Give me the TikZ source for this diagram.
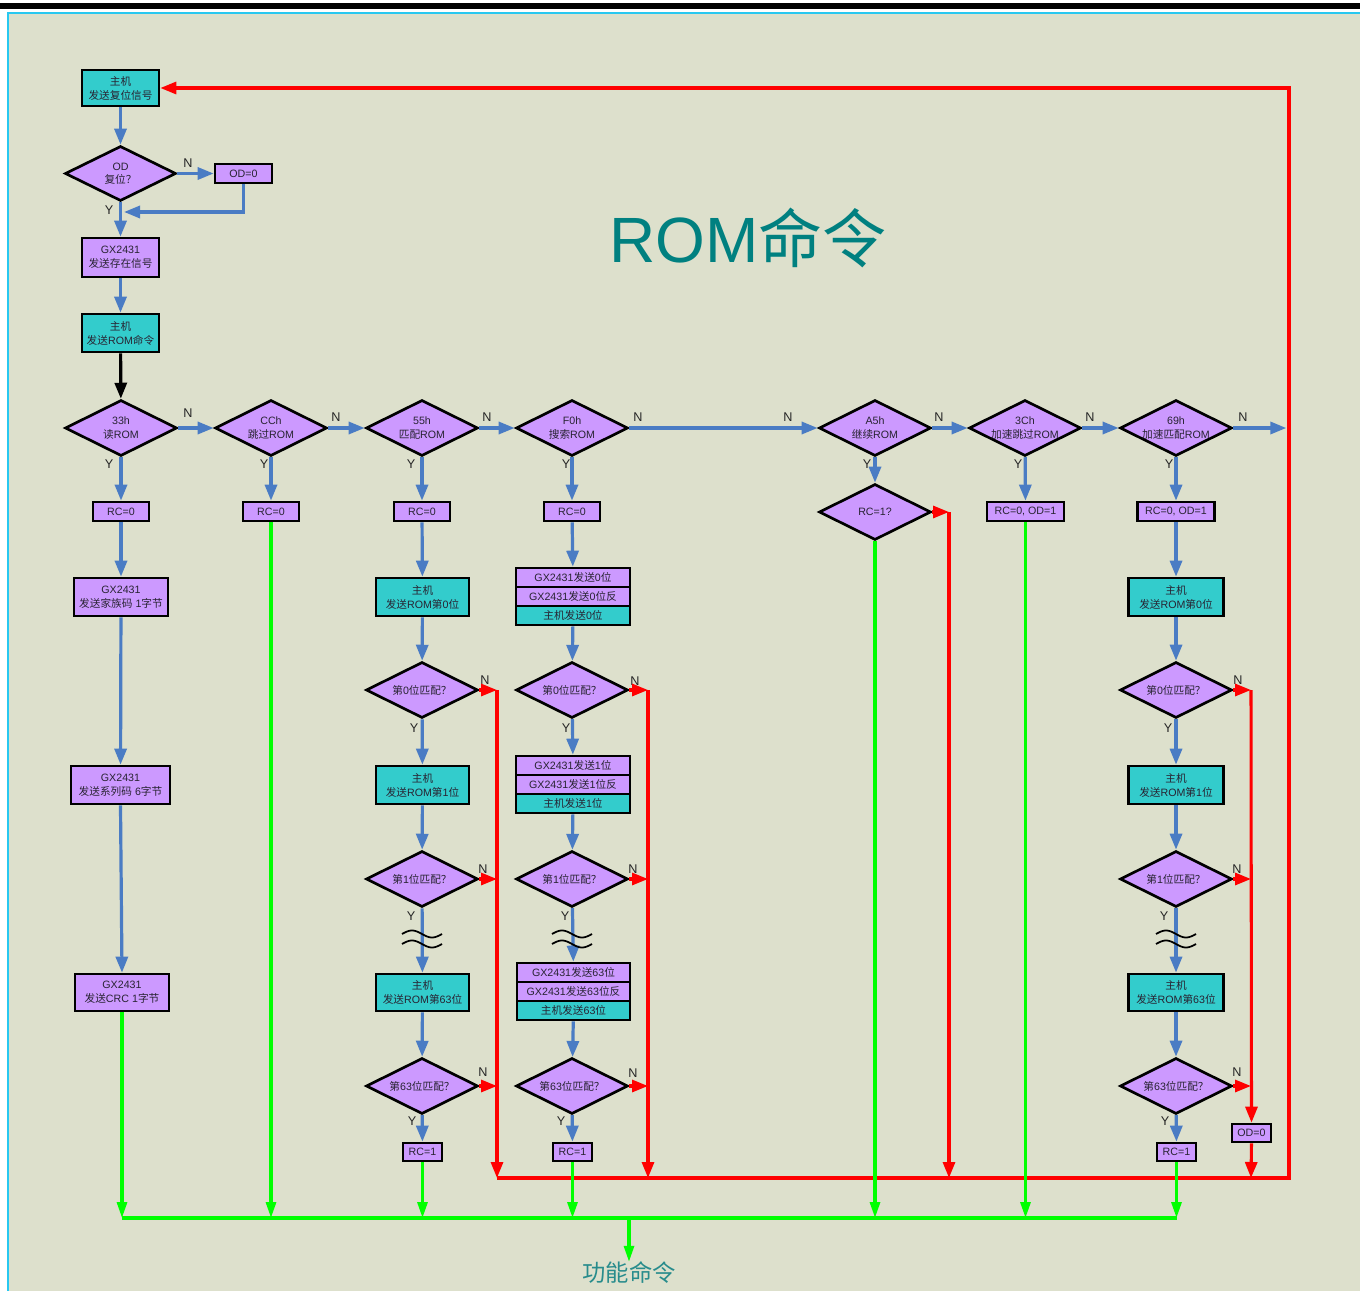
\documentclass[tikz,border=0pt]{standalone}
\usepackage{fontspec}
\usetikzlibrary{shapes.geometric,arrows.meta,calc}
\setmainfont{Liberation Sans}
\newfontfamily\cjkf{Noto Sans CJK SC}
\newfontfamily\latf{Liberation Sans}
\newXeTeXintercharclass\cjkclass
\count255="4E00
\loop
\XeTeXcharclass\count255=\cjkclass
\ifnum\count255<"9FFF \advance\count255 by 1
\repeat
\XeTeXcharclass"FF1F=\cjkclass
\XeTeXinterchartoks 0 \cjkclass={\cjkf}
\XeTeXinterchartoks 4095 \cjkclass={\cjkf}
\XeTeXinterchartoks \cjkclass 0={\latf}
\XeTeXinterchartoks \cjkclass 4095={\latf}
\XeTeXinterchartokenstate=1
\definecolor{bgc}{RGB}{221,224,204}
\definecolor{tealc}{RGB}{51,204,204}
\definecolor{purp}{RGB}{204,153,255}
\definecolor{bluec}{RGB}{74,124,196}
\definecolor{cyanl}{RGB}{40,200,240}
\definecolor{titlec}{RGB}{0,128,128}
\definecolor{fcc}{RGB}{40,140,140}
\definecolor{txt}{RGB}{40,35,50}
\definecolor{grn}{RGB}{0,255,0}
\begin{document}
\begin{tikzpicture}[x=0.75pt,y=-0.75pt,
  wh/.style 2 args={minimum width=#1*0.75pt, minimum height=#2*0.75pt},
  bx/.style={draw=black, line width=2pt, align=center, inner sep=0pt, text=txt,
     font=\fontsize{8}{10.5}\selectfont},
  tb/.style={bx, fill=tealc},
  pb/.style={bx, fill=purp},
  dm/.style={diamond, draw=black, line width=2pt, fill=purp, inner sep=0pt, aspect=2,
     wh={112}{56}, align=center, text=txt, font=\fontsize{8}{10}\selectfont},
  lbl/.style={font=\fontsize{9.5}{11}\selectfont, inner sep=0pt, text=black!85},
  ba/.style={draw=bluec, line width=2.4pt, -{Triangle[length=12pt,width=9pt]}},
  ka/.style={draw=black, line width=2.4pt, -{Triangle[length=12pt,width=9pt]}},
  ra/.style={draw=red, line width=2.3pt, -{Triangle[length=12pt,width=9pt]}},
  ga/.style={draw=grn, line width=2.3pt, -{Triangle[length=12pt,width=7.5pt]}},
  gl/.style={draw=grn, line width=2.3pt},
  wave/.style={draw=black, line width=1.3pt}
]
\useasboundingbox (0,0) rectangle (1360,1291);
% frame
\fill[white] (0,0) rectangle (1360,1291);
\fill[black] (0,3) rectangle (1360,9);
\fill[bgc] (9,14) rectangle (1360,1291);
\draw[cyanl, line width=1.5pt] (8,1291) -- (8,13.5) -- (1360,13.5);

% title
\node[text=titlec, font=\fontsize{48}{50}\selectfont, inner sep=0pt] (title) at (748,238) {ROM命令};

% column 1 top
\node[tb, wh={77}{36}] (reset) at (120.5,88) {主机\\发送复位信号};
\node[dm, wh={111}{55}] (odq) at (120.5,173.5) {OD\\复位？};
\node[pb, wh={57}{19}] (od0) at (243.5,173.5) {OD=0};
\node[pb, wh={77}{39}] (gxp) at (120.5,257.5) {GX2431\\发送存在信号};
\node[tb, wh={77}{38}] (romc) at (120.5,333) {主机\\发送ROM命令};
\coordinate (j1) at (124,212);

% command diamonds
\node[dm] (d33) at (121,428) {33h\\读ROM};
\node[dm] (dCC) at (271,428) {CCh\\跳过ROM};
\node[dm] (d55) at (422,428) {55h\\匹配ROM};
\node[dm] (dF0) at (572,428) {F0h\\搜索ROM};
\node[dm] (dA5) at (875,428) {A5h\\继续ROM};
\node[dm] (d3C) at (1025,428) {3Ch\\加速跳过ROM};
\node[dm] (d69) at (1176,428) {69h\\加速匹配ROM};
\coordinate (rr) at (1289,428);

% second row
\node[pb, wh={56}{19}] (rc0a) at (121,511.5) {RC=0};
\node[pb, wh={56}{19}] (rc0b) at (271,511.5) {RC=0};
\node[pb, wh={56}{19}] (rc0c) at (422,511.5) {RC=0};
\node[pb, wh={56}{19}] (rc0d) at (572,511.5) {RC=0};
\node[dm] (rcq) at (875,512) {RC=1?};
\node[pb, wh={77}{19}] (rod3) at (1025.5,511.5) {RC=0, OD=1};
\node[pb, wh={77}{19}] (rod6) at (1176,511.5) {RC=0, OD=1};

% column 1 chain
\node[pb, wh={94}{38}] (fam) at (121,597) {GX2431\\发送家族码 1字节};
\node[pb, wh={99}{38}] (ser) at (120.5,785) {GX2431\\发送系列码 6字节};
\node[pb, wh={94}{37}] (crc) at (122,992.5) {GX2431\\发送CRC 1字节};

% column 3 (55h)
\node[tb, wh={93}{38}] (h0c) at (422.5,597) {主机\\发送ROM第0位};
\node[dm] (q0c) at (422,690) {第0位匹配？};
\node[tb, wh={93}{38}] (h1c) at (422.5,785) {主机\\发送ROM第1位};
\node[dm] (q1c) at (422,879) {第1位匹配？};
\node[tb, wh={93}{37}] (h63c) at (422.5,992.5) {主机\\发送ROM第63位};
\node[dm] (q63c) at (422,1086) {第63位匹配？};
\node[pb, wh={39}{18}] (rc1c) at (422.5,1152) {RC=1};

% column 4 (F0h)
\node[pb, wh={114}{19}] (t0a) at (573,577.5) {GX2431发送0位};
\node[pb, wh={114}{19}] (t0b) at (573,596.5) {GX2431发送0位反};
\node[tb, wh={114}{19}] (t0c) at (573,615.5) {主机发送0位};
\node[dm] (q0d) at (572,690) {第0位匹配？};
\node[pb, wh={114}{19}] (t1a) at (573,765.5) {GX2431发送1位};
\node[pb, wh={114}{19}] (t1b) at (573,784.5) {GX2431发送1位反};
\node[tb, wh={114}{19}] (t1c) at (573,803.5) {主机发送1位};
\node[dm] (q1d) at (572,879) {第1位匹配？};
\node[pb, wh={113}{19}] (t63a) at (573.5,972.5) {GX2431发送63位};
\node[pb, wh={113}{19}] (t63b) at (573.5,991.5) {GX2431发送63位反};
\node[tb, wh={113}{19}] (t63c) at (573.5,1010.5) {主机发送63位};
\node[dm] (q63d) at (572,1086) {第63位匹配？};
\node[pb, wh={39}{18}] (rc1d) at (572.5,1152) {RC=1};

% column 69h
\node[tb, wh={95}{38}] (h0e) at (1176,597) {主机\\发送ROM第0位};
\node[dm] (q0e) at (1176,690) {第0位匹配？};
\node[tb, wh={95}{38}] (h1e) at (1176,785) {主机\\发送ROM第1位};
\node[dm] (q1e) at (1176,879) {第1位匹配？};
\node[tb, wh={95}{37}] (h63e) at (1176,992.5) {主机\\发送ROM第63位};
\node[dm] (q63e) at (1176,1086) {第63位匹配？};
\node[pb, wh={39}{18}] (rc1e) at (1176.5,1152) {RC=1};
\node[pb, wh={39}{18}] (od0e) at (1251.5,1133) {OD=0};

% function command
\node[text=fcc, font=\fontsize{17.5}{20}\selectfont, inner sep=0pt] (fc) at (629,1273) {功能命令};
\coordinate (G) at (629,1218);
\coordinate (R3) at (497,1178);
\coordinate (R4) at (648,1178);
\coordinate (RA) at (949,1178);
\coordinate (RE) at (1251,1178);
\coordinate (RX) at (1289,1178);

% Y / N labels
\node[lbl] (n1) at (188,163) {N};
\node[lbl] (y1) at (109,210) {Y};
\node[lbl] (n2) at (188,413) {N};
\node[lbl] (n3) at (336,417) {N};
\node[lbl] (n4) at (487,417) {N};
\node[lbl] (n5) at (638,417) {N};
\node[lbl] (n6) at (788,417) {N};
\node[lbl] (n7) at (939,417) {N};
\node[lbl] (n8) at (1090,417) {N};
\node[lbl] (n9) at (1243,417) {N};
\node[lbl] (y2) at (109,464) {Y};
\node[lbl] (y3) at (264,464) {Y};
\node[lbl] (y4) at (411,464) {Y};
\node[lbl] (y5) at (566,464) {Y};
\node[lbl] (y6) at (867,464) {Y};
\node[lbl] (y7) at (1018,464) {Y};
\node[lbl] (y8) at (1169,464) {Y};
\node[lbl] (n10) at (485,680) {N};
\node[lbl] (n11) at (635,681) {N};
\node[lbl] (n12) at (1238,680) {N};
\node[lbl] (y9) at (414,728) {Y};
\node[lbl] (y10) at (566,728) {Y};
\node[lbl] (y11) at (1168,728) {Y};
\node[lbl] (n13) at (483,869) {N};
\node[lbl] (n14) at (633,869) {N};
\node[lbl] (n15) at (1237,869) {N};
\node[lbl] (y12) at (411,916) {Y};
\node[lbl] (y13) at (565,916) {Y};
\node[lbl] (y14) at (1164,916) {Y};
\node[lbl] (n16) at (483,1072) {N};
\node[lbl] (n17) at (633,1073) {N};
\node[lbl] (n18) at (1237,1072) {N};
\node[lbl] (y15) at (412,1121) {Y};
\node[lbl] (y16) at (561,1121) {Y};
\node[lbl] (y17) at (1165,1121) {Y};

% ===== blue connectors =====
\draw[ba] (reset) -- (odq);
\draw[ba] (odq) -- (od0);
\draw[ba] (od0.south) |- (j1);
\draw[ba] (odq) -- (gxp);
\draw[ba] (gxp) -- (romc);
\draw[ka] (romc) -- (d33);
\draw[ba] (d33) -- (dCC);
\draw[ba] (dCC) -- (d55);
\draw[ba] (d55) -- (dF0);
\draw[ba] (dF0) -- (dA5);
\draw[ba] (dA5) -- (d3C);
\draw[ba] (d3C) -- (d69);
\draw[ba] (d69.east) -- ([xshift=-2]rr);
\draw[ba] (d33) -- (rc0a);
\draw[ba] (dCC) -- (rc0b);
\draw[ba] (d55) -- (rc0c);
\draw[ba] (dF0) -- (rc0d);
\draw[ba] (dA5) -- (rcq);
\draw[ba] (d3C) -- (rod3);
\draw[ba] (d69) -- (rod6);
\draw[ba] (rc0a) -- (fam);
\draw[ba] (fam) -- (ser);
\draw[ba] (ser.south) -- (crc.north);
% col 3
\draw[ba] (rc0c) -- (h0c);
\draw[ba] (h0c) -- (q0c);
\draw[ba] (q0c) -- (h1c);
\draw[ba] (h1c) -- (q1c);
\draw[ba] (q1c) -- (h63c);
\draw[ba] (h63c) -- (q63c);
\draw[ba] (q63c) -- (rc1c);
% col 4
\draw[ba] (rc0d) -- (t0a);
\draw[ba] (t0c) -- (q0d);
\draw[ba] (q0d) -- (t1a);
\draw[ba] (t1c) -- (q1d);
\draw[ba] (q1d) -- (t63a);
\draw[ba] (t63c) -- (q63d);
\draw[ba] (q63d) -- (rc1d);
% col 69
\draw[ba] (rod6) -- (h0e);
\draw[ba] (h0e) -- (q0e);
\draw[ba] (q0e) -- (h1e);
\draw[ba] (h1e) -- (q1e);
\draw[ba] (q1e) -- (h63e);
\draw[ba] (h63e) -- (q63e);
\draw[ba] (q63e) -- (rc1e);

% waves
\foreach \cx in {422,572,1176}{
  \draw[wave] plot[domain=-20:20, samples=40, smooth] ({\cx+\x},{934-3.5*sin((\x+20)*9)});
  \draw[wave] plot[domain=-20:20, samples=40, smooth] ({\cx+\x},{944-3.5*sin((\x+20)*9)});
}

% ===== red connectors =====
\draw[ra] (q0c.east) -- (q0c.east -| R3);
\draw[ra] (q1c.east) -- (q1c.east -| R3);
\draw[ra] (q63c.east) -- (q63c.east -| R3);
\draw[ra] (q0c.east -| R3) -- (R3);
\draw[ra] (q0d.east) -- (q0d.east -| R4);
\draw[ra] (q1d.east) -- (q1d.east -| R4);
\draw[ra] (q63d.east) -- (q63d.east -| R4);
\draw[ra] (q0d.east -| R4) -- (R4);
\draw[ra] (rcq.east) -- (rcq.east -| RA);
\draw[ra] (rcq.east -| RA) -- (RA);
\draw[ra] (q0e.east) -- (q0e.east -| RE);
\draw[ra] (q1e.east) -- (q1e.east -| RE);
\draw[ra] (q63e.east) -- (q63e.east -| RE);
\draw[ra] (q0e.east -| RE) -- (od0e.north);
\draw[ra] (od0e.south) -- (RE);
\draw[ra] (R3) -- (RX) -- (reset.east -| RX) -- (reset.east);

% ===== green connectors =====
\draw[gl] (crc.south |- G) -- (rc1e.south |- G);
\draw[ga] (crc.south) -- (crc.south |- G);
\draw[ga] (rc0b.south) -- (rc0b.south |- G);
\draw[ga] (rc1c.south) -- (rc1c.south |- G);
\draw[ga] (rc1d.south) -- (rc1d.south |- G);
\draw[ga] (rcq.south) -- (rcq.south |- G);
\draw[ga] (rod3.south) -- (rod3.south |- G);
\draw[ga] (rc1e.south) -- (rc1e.south |- G);
\draw[ga] (G) -- (fc.north);
\end{tikzpicture}
\end{document}
